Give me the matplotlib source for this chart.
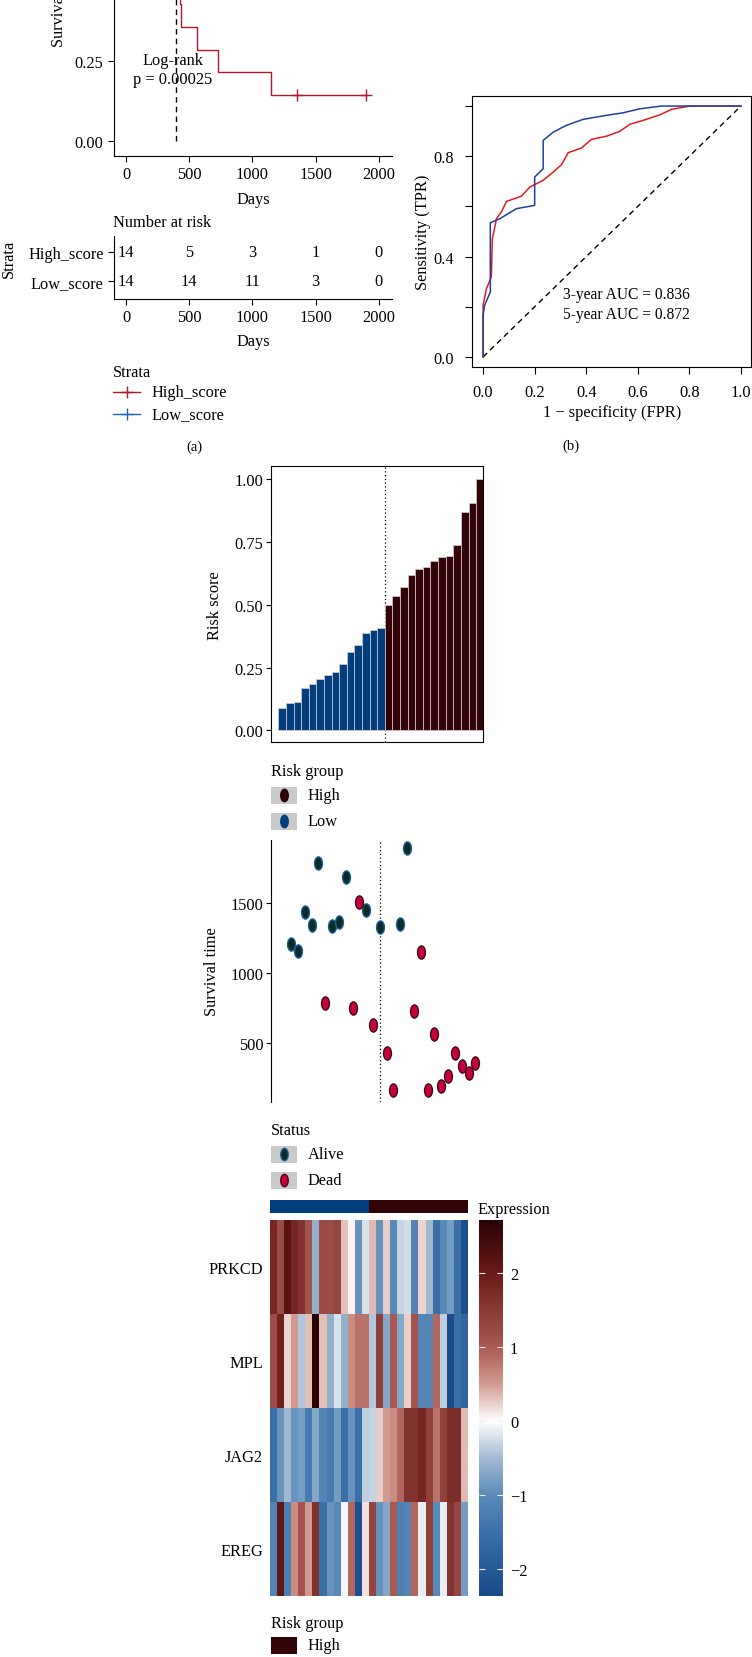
import numpy as np
import matplotlib.pyplot as plt
from matplotlib.colors import ListedColormap, LinearSegmentedColormap
from matplotlib.path import Path
from matplotlib.patches import Rectangle
from matplotlib.lines import Line2D

plt.rcParams['font.family'] = ['Liberation Serif', 'DejaVu Serif']
plt.rcParams['font.size'] = 11.8
plt.rcParams['axes.linewidth'] = 0.8

W, H = 752, 1658

# ---- data ----
# patients ordered by risk score (first 14 = low group, last 14 = high group)
surv_time = [1210, 1157, 1436, 1340, 1788, 788, 1338, 1364, 1688, 750, 1507, 1448, 631, 1329,
             429, 167, 1350, 1895, 729, 1148, 167, 562, 193, 264, 431, 336, 286, 357]
status = [0, 0, 0, 0, 0, 1, 0, 0, 0, 1, 1, 0, 1, 0,
          1, 1, 0, 0, 1, 1, 1, 1, 1, 1, 1, 1, 1, 1]
n_low = 14
median_high = 395
risk_times = [0, 500, 1000, 1500, 2000]

# risk scores (visible bars)
risk_score = [0.089, 0.110, 0.113, 0.170, 0.185, 0.205, 0.221, 0.233, 0.265, 0.314, 0.340, 0.388, 0.400, 0.408,
              0.499, 0.536, 0.572, 0.619, 0.641, 0.649, 0.674, 0.690, 0.695, 0.738, 0.868, 0.906, 1.000]

# time-dependent ROC
fpr_3y = [0, 0, 0.013, 0.032, 0.036, 0.052, 0.071, 0.091, 0.149, 0.181, 0.233, 0.272, 0.304, 0.33,
          0.382, 0.42, 0.479, 0.53, 0.569, 0.621, 0.686, 0.731, 0.802, 1.0]
tpr_3y = [0, 0.206, 0.272, 0.319, 0.471, 0.551, 0.578, 0.62, 0.641, 0.677, 0.704, 0.737, 0.766, 0.814,
          0.833, 0.867, 0.88, 0.899, 0.927, 0.943, 0.965, 0.987, 1.0, 1.0]
fpr_5y = [0, 0, 0.006, 0.028, 0.028, 0.065, 0.129, 0.2, 0.2, 0.233, 0.233, 0.272, 0.323, 0.388,
          0.479, 0.543, 0.608, 0.692, 1.0]
tpr_5y = [0, 0.166, 0.206, 0.259, 0.535, 0.551, 0.591, 0.604, 0.717, 0.75, 0.863, 0.896, 0.923, 0.947,
          0.963, 0.973, 0.989, 1.0, 1.0]
auc_3y = 0.836
auc_5y = 0.872

# expression heatmap
genes = ['PRKCD', 'MPL', 'JAG2', 'EREG']
expr_prkcd = [1.8, 1.2, 2.2, 1.8, 1.6, 1.1, -0.6, 1.2, 1.2, 1.3, 0.3, 0.05, -0.9, -0.2,
              0.35, -0.9, 0.25, -1.0, -0.3, -0.25, -1.1, 0.2, -0.5, -1.5, -1.0, -0.8, -1.5, -2.2]
expr_mpl = [1.2, 1.9, 0.2, 0.5, -0.4, 0.3, 2.7, 0.3, -0.6, -0.2, -0.6, 0.6, 0.8, 0.8,
            -0.4, 1.4, -0.7, 1.0, -0.7, 0.25, 1.1, -1.1, -1.1, 0.9, -0.35, -2.3, -1.5, -1.7]
expr_jag2 = [-1.5, -0.9, -0.5, -0.9, -0.8, -1.3, -0.7, -1.1, -1.3, -0.8, -1.5, -0.9, -1.5, -0.35,
             -0.3, 0.25, 0.5, 0.6, 0.9, 1.6, 1.6, 1.8, 1.4, 0.8, 1.4, 1.7, 1.7, 0.35]
expr_ereg = [-1.1, 2.1, -1.2, 0.6, 1.1, 0.5, 1.6, -1.5, -0.9, -1.0, -0.05, 0.9, -2.2, 0.15,
             1.3, -0.9, -0.7, 1.0, -1.2, -1.1, 0.9, -0.1, 1.4, -1.0, -0.1, 1.6, 1.3, -0.8]

c_low = '#023e7d'
c_high = '#320407'
c_km_high = '#B2182B'
c_km_low = '#2166AC'

fig = plt.figure(figsize=(W / 100, H / 100), dpi=100)


def px_axes(x0, y0, x1, y1):
    return fig.add_axes([x0 / W, 1 - y1 / H, (x1 - x0) / W, (y1 - y0) / H])


def km_curve(t, e):
    t = np.asarray(t)
    e = np.asarray(e)
    xs, ys, s = [0], [1.0], 1.0
    for u in np.unique(t[e == 1]):
        n = np.sum(t >= u)
        d = np.sum((t == u) & (e == 1))
        s *= 1 - d / n
        xs.append(u)
        ys.append(s)
    xs.append(t.max())
    ys.append(s)
    cx = t[e == 0]
    cy = [ys[np.searchsorted(xs, c, side='right') - 1] for c in cx]
    return xs, ys, cx, cy


t_arr = np.array(surv_time)
e_arr = np.array(status)
grp_high = np.arange(len(surv_time)) >= n_low

# ---- (a) KM ----
ax = px_axes(114, 0, 392, 157)
for mask, col in [(grp_high, c_km_high), (~grp_high, c_km_low)]:
    xs, ys, cx, cy = km_curve(t_arr[mask], e_arr[mask])
    ax.step(xs, ys, where='post', color=col, lw=1)
    ax.plot(cx, cy, '+', color=col, ms=9, mew=1)
ax.plot([median_high, median_high], [0, 0.5], ls=(0, (4, 3)), color='black', lw=1)
ax.text(372, 0.224, 'Log-rank\np = 0.00025', ha='center', va='center', linespacing=1.25)
ax.set_xticks(risk_times)
ax.set_yticks([0, 0.25, 0.5, 0.75, 1.0])
ax.set_yticklabels(['0.00', '0.25', '0.50', '0.75', '1.00'])
ax.set_xlim(-95, 2103)
ax.set_ylim(-0.047, 0.444)
ax.spines[['top', 'right']].set_visible(False)
ax.tick_params(length=4, width=0.8)

# risk table
at = px_axes(114, 237, 392, 300)
for row, mask in [(1, grp_high), (0, ~grp_high)]:
    for tt in risk_times:
        at.text(tt, row, str(int(np.sum(t_arr[mask] >= tt))), ha='center', va='center')
at.set_yticks([1, 0])
at.set_yticklabels(['High_score', 'Low_score'])
at.set_xticks(risk_times)
at.set_xlim(-95, 2103)
at.set_ylim(-0.62, 1.55)
at.spines[['top', 'right']].set_visible(False)
at.tick_params(length=4, width=0.8)

# ---- (b) ROC ----
ar = px_axes(472, 97, 751, 368)
ar.plot([0, 1], [0, 1], ls=(0, (4, 3)), color='black', lw=1)
ar.plot(fpr_3y, tpr_3y, color='#e8191f', lw=1.1)
ar.plot(fpr_5y, tpr_5y, color='#1f3f9e', lw=1.1)
ar.text(0.31, 0.235, f'3-year AUC = {auc_3y}', fontsize=11.2)
ar.text(0.31, 0.155, f'5-year AUC = {auc_5y}', fontsize=11.2)
ar.set_xticks(np.arange(0, 1.01, 0.2))
ar.set_xticklabels(['0.0', '0.2', '0.4', '0.6', '0.8', '1.0'])
ar.set_yticks(np.arange(0, 1.01, 0.2))
ar.set_yticklabels(['0.0', '', '0.4', '', '0.8', ''])
ar.set_xlim(-0.043, 1.039)
ar.set_ylim(-0.04, 1.04)
ar.tick_params(axis='x', length=5, width=0.8, pad=7)
ar.tick_params(axis='y', length=5, width=0.8, pad=8)

# ---- risk score bars ----
ab = px_axes(271, 467, 483, 743)
idx = np.arange(1, len(risk_score) + 1)
bar_cols = [c_low if i <= n_low else c_high for i in idx]
ab.axvline(n_low + 0.5, ls=(0, (1, 2)), color='black', lw=0.9, zorder=1)
ab.bar(idx, risk_score, width=1, color=bar_cols, edgecolor='#d8cfd6', linewidth=0.5, zorder=2)
ab.set_xticks([])
ab.set_yticks([0, 0.25, 0.5, 0.75, 1.0])
ab.set_yticklabels(['0.00', '0.25', '0.50', '0.75', '1.00'])
ab.set_xlim(-0.46, 27.4)
ab.set_ylim(-0.046, 1.053)
ab.tick_params(length=3.5, width=0.8, pad=2)

# ---- survival time scatter ----
circ = Path.unit_circle()
ellipse = Path(circ.vertices * [0.6, 1.0], circ.codes)
asc = px_axes(271, 841, 483, 1103)
pidx = np.arange(1, len(surv_time) + 1)
asc.axvline(n_low, ls=(0, (1, 2)), color='black', lw=0.9, zorder=1)
alive = e_arr == 0
asc.scatter(pidx[alive], t_arr[alive], marker=ellipse, s=90, c='#0a2c22', edgecolors='#1d5c9c',
            linewidths=1, zorder=3)
asc.scatter(pidx[~alive], t_arr[~alive], marker=ellipse, s=90, c='#c8003c', edgecolors='#3e0a16',
            linewidths=1, zorder=3)
asc.set_xticks([])
asc.set_yticks([500, 1000, 1500])
asc.set_xlim(-1.93, 29.1)
asc.set_ylim(79, 1950)
asc.spines[['top', 'right', 'bottom']].set_visible(False)
asc.tick_params(length=3.5, width=0.8, pad=2)

# ---- heatmap ----
vmin, vmax = -2.36, 2.72
nodes = [(-2.36, '#174a88'), (-1.5, '#3b70a9'), (-1.0, '#5a8ab8'), (-0.5, '#a2bad2'),
         (0.0, '#ffffff'), (0.5, '#d29c92'), (1.0, '#aa5a53'), (2.0, '#6a1a18'), (2.72, '#2a0204')]
cmap = LinearSegmentedColormap.from_list(
    'expr', [((v - vmin) / (vmax - vmin), c) for v, c in nodes])

aa = px_axes(270, 1201, 468, 1214)
group_code = [[0 if i <= n_low else 1 for i in pidx]]
aa.imshow(group_code, aspect='auto', cmap=ListedColormap([c_low, c_high]), interpolation='nearest')
aa.axis('off')

ah = px_axes(270, 1221, 468, 1597)
expr = np.array([expr_prkcd, expr_mpl, expr_jag2, expr_ereg])
im = ah.imshow(expr, aspect='auto', cmap=cmap, vmin=vmin, vmax=vmax, interpolation='nearest')
ah.set_xticks([])
ah.set_yticks(range(len(genes)))
ah.set_yticklabels(genes)
ah.tick_params(length=0, pad=5)
for s in ah.spines.values():
    s.set_visible(False)

cax = px_axes(479, 1221, 503, 1597)
cb = fig.colorbar(im, cax=cax)
cb.outline.set_visible(False)
cb.set_ticks([-2, -1, 0, 1, 2])
cax.yaxis.set_ticks_position('both')
cax.tick_params(direction='in', length=4, width=0.8, color='#f4e8e8', labelleft=False,
                labelright=True, pad=5)

# ---- overlay: labels and legends in pixel space ----
lay = fig.add_axes([0, 0, 1, 1], facecolor='none')
lay.set_xlim(0, W)
lay.set_ylim(H, 0)
lay.axis('off')

lay.text(59, 47, 'Survival probability', rotation=90, ha='center', va='bottom')
lay.text(253, 200, 'Days', ha='center', va='center')
lay.text(113, 223, 'Number at risk', ha='left', va='center')
lay.text(9, 259, 'Strata', rotation=90, ha='center', va='center')
lay.text(253, 342, 'Days', ha='center', va='center')
lay.text(113, 373, 'Strata', ha='left', va='center')
for y, lab, col in [(393, 'High_score', c_km_high), (415, 'Low_score', c_km_low)]:
    lay.add_line(Line2D([113, 140], [y, y], color=col, lw=1))
    lay.plot(126.5, y, '+', color=col, ms=9, mew=1)
    lay.text(152, y, lab, ha='left', va='center')
lay.text(194, 447, '(a)', ha='center', va='center', fontsize=10.5)
lay.text(571, 446, '(b)', ha='center', va='center', fontsize=10.5)

lay.text(612, 413, '1 \u2212 specificity (FPR)', ha='center', va='center')
lay.text(423, 232, 'Sensitivity (TPR)', rotation=90, ha='center', va='center')
lay.text(215, 606, 'Risk score', rotation=90, ha='center', va='center')
lay.text(212, 972, 'Survival time', rotation=90, ha='center', va='center')


def legend_block(y_title, title, items, marker=True, step=24):
    lay.text(271, y_title, title, ha='left', va='center')
    for k, (lab, face, edge) in enumerate(items):
        y = y_title + step + 26 * k
        if marker:
            lay.add_patch(Rectangle((271, y - 8.5), 26, 17, fc='#cacaca', ec='none'))
            lay.scatter([284], [y], marker=ellipse, s=80, c=face, edgecolors=edge, linewidths=1)
        else:
            lay.add_patch(Rectangle((271, y - 8.5), 26, 17, fc=face, ec='none'))
        lay.text(308, y, lab, ha='left', va='center')


legend_block(772, 'Risk group', [('High', c_high, '#1a0000'), ('Low', c_low, c_low)])
legend_block(1131, 'Status', [('Alive', '#0a2c22', '#1d5c9c'), ('Dead', '#c8003c', '#3e0a16')])
lay.text(478, 1210, 'Expression', ha='left', va='center')
legend_block(1624, 'Risk group', [('High', c_high, c_high), ('Low', c_low, c_low)], marker=False,
             step=22)

fig.savefig('out.png', dpi=100)
